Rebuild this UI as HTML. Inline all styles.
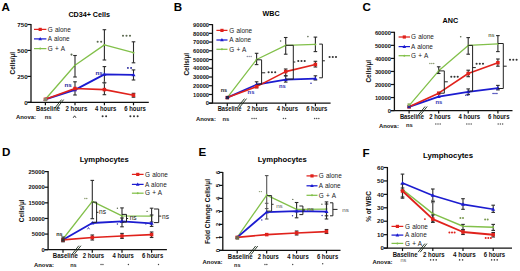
<!DOCTYPE html>
<html><head><meta charset="utf-8"><style>
html,body{margin:0;padding:0;background:#fff;}
body{width:520px;height:271px;overflow:hidden;}
svg{display:block;}
text{font-family:"Liberation Sans", sans-serif;}
</style></head><body>
<svg width="520" height="271" viewBox="0 0 520 271">
<rect width="520" height="271" fill="#fff"/>
<text x="1.60" y="10.50" font-size="11.6" font-weight="bold" text-anchor="start" fill="#000">A</text>
<text x="89.20" y="17.00" font-size="8.0" font-weight="bold" text-anchor="middle" fill="#000" textLength="41.60" lengthAdjust="spacingAndGlyphs">CD34+ Cells</text>
<text x="15.30" y="63.20" font-size="6.4" font-weight="bold" text-anchor="middle" fill="#111" transform="rotate(-90 15.30 63.20)">Cells/µl</text>
<line x1="31.00" y1="24.00" x2="31.00" y2="102.30" stroke="#111" stroke-width="1.3"/>
<line x1="27.40" y1="24.50" x2="31.00" y2="24.50" stroke="#111" stroke-width="1.2"/>
<text x="27.60" y="26.70" font-size="6.2" font-weight="bold" text-anchor="end" fill="#111">750</text>
<line x1="27.40" y1="50.40" x2="31.00" y2="50.40" stroke="#111" stroke-width="1.2"/>
<text x="27.60" y="52.60" font-size="6.2" font-weight="bold" text-anchor="end" fill="#111">500</text>
<line x1="27.40" y1="76.40" x2="31.00" y2="76.40" stroke="#111" stroke-width="1.2"/>
<text x="27.60" y="78.60" font-size="6.2" font-weight="bold" text-anchor="end" fill="#111">250</text>
<line x1="27.40" y1="102.30" x2="31.00" y2="102.30" stroke="#111" stroke-width="1.2"/>
<text x="27.60" y="104.50" font-size="6.2" font-weight="bold" text-anchor="end" fill="#111">0</text>
<line x1="27.40" y1="102.30" x2="148.80" y2="102.30" stroke="#111" stroke-width="1.3"/>
<line x1="45.40" y1="102.30" x2="45.40" y2="105.30" stroke="#111" stroke-width="1.2"/>
<line x1="75.00" y1="102.30" x2="75.00" y2="105.30" stroke="#111" stroke-width="1.2"/>
<line x1="104.40" y1="102.30" x2="104.40" y2="105.30" stroke="#111" stroke-width="1.2"/>
<line x1="133.50" y1="102.30" x2="133.50" y2="105.30" stroke="#111" stroke-width="1.2"/>
<text x="48.00" y="110.50" font-size="6.4" font-weight="bold" text-anchor="middle" fill="#111" textLength="23.80" lengthAdjust="spacingAndGlyphs">Baseline</text>
<text x="76.35" y="110.50" font-size="6.4" font-weight="bold" text-anchor="middle" fill="#111" textLength="21.90" lengthAdjust="spacingAndGlyphs">2 hours</text>
<text x="105.70" y="110.50" font-size="6.4" font-weight="bold" text-anchor="middle" fill="#111" textLength="21.20" lengthAdjust="spacingAndGlyphs">4 hours</text>
<text x="135.00" y="110.50" font-size="6.4" font-weight="bold" text-anchor="middle" fill="#111" textLength="21.60" lengthAdjust="spacingAndGlyphs">6 hours</text>
<line x1="54.75" y1="108.20" x2="61.55" y2="99.60" stroke="#1a2a1a" stroke-width="0.9"/>
<line x1="56.85" y1="108.20" x2="63.65" y2="99.60" stroke="#1a2a1a" stroke-width="0.9"/>
<text x="16.00" y="119.40" font-size="5.9" font-weight="bold" text-anchor="start" fill="#111">Anova:</text>
<text x="48.10" y="119.27" font-size="5.8" font-weight="bold" text-anchor="middle" fill="#222">ns</text>
<polyline points="73.20,117.80 74.60,115.80 76.00,117.80" fill="none" stroke="#222" stroke-width="0.9"/>
<circle cx="102.60" cy="116.20" r="1.0" fill="#333"/>
<circle cx="106.10" cy="116.20" r="1.0" fill="#333"/>
<circle cx="130.35" cy="116.20" r="1.0" fill="#333"/>
<circle cx="134.00" cy="116.20" r="1.0" fill="#333"/>
<circle cx="137.65" cy="116.20" r="1.0" fill="#333"/>
<line x1="34.00" y1="29.40" x2="46.40" y2="29.40" stroke="#e0221c" stroke-width="1.25"/>
<rect x="38.60" y="27.80" width="3.2" height="3.2" fill="#e0221c"/>
<text x="47.80" y="31.65" font-size="6.4" font-weight="normal" text-anchor="start" fill="#1a1a1a" word-spacing="0.5">G alone</text>
<line x1="34.00" y1="38.90" x2="46.40" y2="38.90" stroke="#1c1cd0" stroke-width="1.25"/>
<polygon points="40.20,36.98 38.36,40.18 42.04,40.18" fill="#1c1cd0"/>
<text x="47.80" y="41.15" font-size="6.4" font-weight="normal" text-anchor="start" fill="#1a1a1a" word-spacing="0.5">A alone</text>
<line x1="34.00" y1="48.60" x2="46.40" y2="48.60" stroke="#82c04a" stroke-width="1.25"/>
<circle cx="40.20" cy="48.60" r="1.0" fill="#82c04a"/>
<text x="47.80" y="50.85" font-size="6.4" font-weight="normal" text-anchor="start" fill="#1a1a1a" word-spacing="0.5">G + A</text>
<polyline points="45.40,99.30 75.00,65.20 104.40,44.90 133.50,52.70" fill="none" stroke="#82c04a" stroke-width="1.3" stroke-linejoin="round"/>
<line x1="75.00" y1="55.50" x2="75.00" y2="77.00" stroke="#2c2c2c" stroke-width="1.1"/>
<line x1="73.20" y1="55.50" x2="76.80" y2="55.50" stroke="#2c2c2c" stroke-width="1.1"/>
<line x1="73.20" y1="77.00" x2="76.80" y2="77.00" stroke="#2c2c2c" stroke-width="1.1"/>
<line x1="104.40" y1="29.70" x2="104.40" y2="60.00" stroke="#2c2c2c" stroke-width="1.1"/>
<line x1="102.60" y1="29.70" x2="106.20" y2="29.70" stroke="#2c2c2c" stroke-width="1.1"/>
<line x1="102.60" y1="60.00" x2="106.20" y2="60.00" stroke="#2c2c2c" stroke-width="1.1"/>
<line x1="133.50" y1="41.80" x2="133.50" y2="62.80" stroke="#2c2c2c" stroke-width="1.1"/>
<line x1="131.70" y1="41.80" x2="135.30" y2="41.80" stroke="#2c2c2c" stroke-width="1.1"/>
<line x1="131.70" y1="62.80" x2="135.30" y2="62.80" stroke="#2c2c2c" stroke-width="1.1"/>
<circle cx="45.40" cy="99.30" r="1.0" fill="#82c04a"/>
<circle cx="75.00" cy="65.20" r="1.0" fill="#82c04a"/>
<circle cx="104.40" cy="44.90" r="1.0" fill="#82c04a"/>
<circle cx="133.50" cy="52.70" r="1.0" fill="#82c04a"/>
<polyline points="45.40,99.30 75.00,89.80 104.40,74.40 133.50,74.90" fill="none" stroke="#1c1cd0" stroke-width="1.9" stroke-linejoin="round"/>
<line x1="75.00" y1="81.80" x2="75.00" y2="95.00" stroke="#2c2c2c" stroke-width="1.1"/>
<line x1="73.20" y1="81.80" x2="76.80" y2="81.80" stroke="#2c2c2c" stroke-width="1.1"/>
<line x1="73.20" y1="95.00" x2="76.80" y2="95.00" stroke="#2c2c2c" stroke-width="1.1"/>
<line x1="104.40" y1="66.60" x2="104.40" y2="82.70" stroke="#2c2c2c" stroke-width="1.1"/>
<line x1="102.60" y1="66.60" x2="106.20" y2="66.60" stroke="#2c2c2c" stroke-width="1.1"/>
<line x1="102.60" y1="82.70" x2="106.20" y2="82.70" stroke="#2c2c2c" stroke-width="1.1"/>
<line x1="133.50" y1="69.90" x2="133.50" y2="80.00" stroke="#2c2c2c" stroke-width="1.1"/>
<line x1="131.70" y1="69.90" x2="135.30" y2="69.90" stroke="#2c2c2c" stroke-width="1.1"/>
<line x1="131.70" y1="80.00" x2="135.30" y2="80.00" stroke="#2c2c2c" stroke-width="1.1"/>
<polygon points="45.40,97.20 43.39,100.70 47.41,100.70" fill="#1c1cd0"/>
<polygon points="75.00,87.70 72.99,91.20 77.01,91.20" fill="#1c1cd0"/>
<polygon points="104.40,72.30 102.39,75.80 106.41,75.80" fill="#1c1cd0"/>
<polygon points="133.50,72.80 131.49,76.30 135.51,76.30" fill="#1c1cd0"/>
<polyline points="45.40,99.30 75.00,88.50 104.40,89.60 133.50,95.20" fill="none" stroke="#e0221c" stroke-width="1.6" stroke-linejoin="round"/>
<line x1="104.40" y1="82.70" x2="104.40" y2="94.70" stroke="#2c2c2c" stroke-width="1.1"/>
<line x1="102.60" y1="82.70" x2="106.20" y2="82.70" stroke="#2c2c2c" stroke-width="1.1"/>
<line x1="102.60" y1="94.70" x2="106.20" y2="94.70" stroke="#2c2c2c" stroke-width="1.1"/>
<line x1="133.50" y1="93.30" x2="133.50" y2="97.20" stroke="#2c2c2c" stroke-width="1.1"/>
<line x1="131.70" y1="93.30" x2="135.30" y2="93.30" stroke="#2c2c2c" stroke-width="1.1"/>
<line x1="131.70" y1="97.20" x2="135.30" y2="97.20" stroke="#2c2c2c" stroke-width="1.1"/>
<rect x="43.65" y="97.55" width="3.50" height="3.50" fill="#e0221c"/>
<rect x="73.25" y="86.75" width="3.50" height="3.50" fill="#e0221c"/>
<rect x="102.65" y="87.85" width="3.50" height="3.50" fill="#e0221c"/>
<rect x="131.75" y="93.45" width="3.50" height="3.50" fill="#e0221c"/>
<rect x="43.90" y="98.00" width="3.20" height="3.20" fill="#8a8a6c"/>
<circle cx="104.4" cy="82.7" r="1.1" fill="none" stroke="#777" stroke-width="0.8"/>
<circle cx="71.50" cy="54.60" r="1.05" fill="#5d6a52"/>
<circle cx="97.65" cy="41.70" r="1.05" fill="#5d6a52"/>
<circle cx="101.15" cy="41.70" r="1.05" fill="#5d6a52"/>
<circle cx="123.00" cy="35.80" r="1.05" fill="#5d6a52"/>
<circle cx="126.50" cy="35.80" r="1.05" fill="#5d6a52"/>
<circle cx="130.00" cy="35.80" r="1.05" fill="#5d6a52"/>
<text x="68.00" y="87.37" font-size="6.2" font-weight="bold" text-anchor="middle" fill="#22229a">ns</text>
<text x="99.00" y="75.37" font-size="6.2" font-weight="bold" text-anchor="middle" fill="#22229a">ns</text>
<circle cx="127.90" cy="67.90" r="0.95" fill="#22229a"/>
<circle cx="131.10" cy="67.90" r="0.95" fill="#22229a"/>
<text x="173.80" y="10.60" font-size="11.6" font-weight="bold" text-anchor="start" fill="#000">B</text>
<text x="271.05" y="15.70" font-size="7.9" font-weight="bold" text-anchor="middle" fill="#000" textLength="17.10" lengthAdjust="spacingAndGlyphs">WBC</text>
<text x="189.00" y="64.30" font-size="6.4" font-weight="bold" text-anchor="middle" fill="#111" transform="rotate(-90 189.00 64.30)">Cells/µl</text>
<line x1="212.50" y1="24.10" x2="212.50" y2="103.20" stroke="#111" stroke-width="1.3"/>
<line x1="208.90" y1="103.20" x2="212.50" y2="103.20" stroke="#111" stroke-width="1.2"/>
<text x="209.10" y="105.40" font-size="5.8" font-weight="bold" text-anchor="end" fill="#111">0</text>
<line x1="208.90" y1="94.47" x2="212.50" y2="94.47" stroke="#111" stroke-width="1.2"/>
<text x="209.10" y="96.67" font-size="5.8" font-weight="bold" text-anchor="end" fill="#111">10000</text>
<line x1="208.90" y1="85.73" x2="212.50" y2="85.73" stroke="#111" stroke-width="1.2"/>
<text x="209.10" y="87.93" font-size="5.8" font-weight="bold" text-anchor="end" fill="#111">20000</text>
<line x1="208.90" y1="77.00" x2="212.50" y2="77.00" stroke="#111" stroke-width="1.2"/>
<text x="209.10" y="79.20" font-size="5.8" font-weight="bold" text-anchor="end" fill="#111">30000</text>
<line x1="208.90" y1="68.27" x2="212.50" y2="68.27" stroke="#111" stroke-width="1.2"/>
<text x="209.10" y="70.47" font-size="5.8" font-weight="bold" text-anchor="end" fill="#111">40000</text>
<line x1="208.90" y1="59.53" x2="212.50" y2="59.53" stroke="#111" stroke-width="1.2"/>
<text x="209.10" y="61.73" font-size="5.8" font-weight="bold" text-anchor="end" fill="#111">50000</text>
<line x1="208.90" y1="50.80" x2="212.50" y2="50.80" stroke="#111" stroke-width="1.2"/>
<text x="209.10" y="53.00" font-size="5.8" font-weight="bold" text-anchor="end" fill="#111">60000</text>
<line x1="208.90" y1="42.07" x2="212.50" y2="42.07" stroke="#111" stroke-width="1.2"/>
<text x="209.10" y="44.27" font-size="5.8" font-weight="bold" text-anchor="end" fill="#111">70000</text>
<line x1="208.90" y1="33.33" x2="212.50" y2="33.33" stroke="#111" stroke-width="1.2"/>
<text x="209.10" y="35.53" font-size="5.8" font-weight="bold" text-anchor="end" fill="#111">80000</text>
<line x1="208.90" y1="24.60" x2="212.50" y2="24.60" stroke="#111" stroke-width="1.2"/>
<text x="209.10" y="26.80" font-size="5.8" font-weight="bold" text-anchor="end" fill="#111">90000</text>
<line x1="208.90" y1="103.20" x2="330.60" y2="103.20" stroke="#111" stroke-width="1.3"/>
<line x1="227.30" y1="103.20" x2="227.30" y2="106.20" stroke="#111" stroke-width="1.2"/>
<line x1="256.60" y1="103.20" x2="256.60" y2="106.20" stroke="#111" stroke-width="1.2"/>
<line x1="285.70" y1="103.20" x2="285.70" y2="106.20" stroke="#111" stroke-width="1.2"/>
<line x1="315.40" y1="103.20" x2="315.40" y2="106.20" stroke="#111" stroke-width="1.2"/>
<text x="229.60" y="111.30" font-size="6.4" font-weight="bold" text-anchor="middle" fill="#111" textLength="23.80" lengthAdjust="spacingAndGlyphs">Baseline</text>
<text x="257.40" y="111.30" font-size="6.4" font-weight="bold" text-anchor="middle" fill="#111" textLength="20.80" lengthAdjust="spacingAndGlyphs">2 hours</text>
<text x="287.35" y="111.30" font-size="6.4" font-weight="bold" text-anchor="middle" fill="#111" textLength="21.10" lengthAdjust="spacingAndGlyphs">4 hours</text>
<text x="316.80" y="111.30" font-size="6.4" font-weight="bold" text-anchor="middle" fill="#111" textLength="21.20" lengthAdjust="spacingAndGlyphs">6 hours</text>
<line x1="237.65" y1="107.20" x2="244.45" y2="98.60" stroke="#1a2a1a" stroke-width="0.9"/>
<line x1="239.75" y1="107.20" x2="246.55" y2="98.60" stroke="#1a2a1a" stroke-width="0.9"/>
<text x="195.90" y="120.80" font-size="5.9" font-weight="bold" text-anchor="start" fill="#111">Anova:</text>
<text x="225.90" y="120.57" font-size="5.8" font-weight="bold" text-anchor="middle" fill="#222">ns</text>
<circle cx="252.00" cy="118.40" r="0.75" fill="#555"/>
<circle cx="254.10" cy="118.40" r="0.75" fill="#555"/>
<circle cx="256.20" cy="118.40" r="0.75" fill="#555"/>
<circle cx="283.45" cy="118.40" r="0.75" fill="#555"/>
<circle cx="285.55" cy="118.40" r="0.75" fill="#555"/>
<circle cx="314.60" cy="118.40" r="0.75" fill="#555"/>
<circle cx="316.70" cy="118.40" r="0.75" fill="#555"/>
<circle cx="318.80" cy="118.40" r="0.75" fill="#555"/>
<line x1="216.40" y1="30.40" x2="227.50" y2="30.40" stroke="#e0221c" stroke-width="1.25"/>
<rect x="220.35" y="28.80" width="3.2" height="3.2" fill="#e0221c"/>
<text x="229.20" y="32.65" font-size="6.4" font-weight="normal" text-anchor="start" fill="#1a1a1a" word-spacing="0.5">G alone</text>
<line x1="216.40" y1="40.00" x2="227.50" y2="40.00" stroke="#1c1cd0" stroke-width="1.25"/>
<polygon points="221.95,38.08 220.11,41.28 223.79,41.28" fill="#1c1cd0"/>
<text x="229.20" y="42.25" font-size="6.4" font-weight="normal" text-anchor="start" fill="#1a1a1a" word-spacing="0.5">A alone</text>
<line x1="216.40" y1="49.30" x2="227.50" y2="49.30" stroke="#82c04a" stroke-width="1.25"/>
<circle cx="221.95" cy="49.30" r="1.0" fill="#82c04a"/>
<text x="229.20" y="51.55" font-size="6.4" font-weight="normal" text-anchor="start" fill="#1a1a1a" word-spacing="0.5">G + A</text>
<polyline points="227.30,97.60 256.60,59.50 285.70,45.30 315.40,44.40" fill="none" stroke="#82c04a" stroke-width="1.3" stroke-linejoin="round"/>
<line x1="256.60" y1="53.30" x2="256.60" y2="64.60" stroke="#2c2c2c" stroke-width="1.1"/>
<line x1="254.80" y1="53.30" x2="258.40" y2="53.30" stroke="#2c2c2c" stroke-width="1.1"/>
<line x1="254.80" y1="64.60" x2="258.40" y2="64.60" stroke="#2c2c2c" stroke-width="1.1"/>
<line x1="285.70" y1="37.50" x2="285.70" y2="54.20" stroke="#2c2c2c" stroke-width="1.1"/>
<line x1="283.90" y1="37.50" x2="287.50" y2="37.50" stroke="#2c2c2c" stroke-width="1.1"/>
<line x1="283.90" y1="54.20" x2="287.50" y2="54.20" stroke="#2c2c2c" stroke-width="1.1"/>
<line x1="315.40" y1="37.10" x2="315.40" y2="51.60" stroke="#2c2c2c" stroke-width="1.1"/>
<line x1="313.60" y1="37.10" x2="317.20" y2="37.10" stroke="#2c2c2c" stroke-width="1.1"/>
<line x1="313.60" y1="51.60" x2="317.20" y2="51.60" stroke="#2c2c2c" stroke-width="1.1"/>
<circle cx="227.30" cy="97.60" r="1.0" fill="#82c04a"/>
<circle cx="256.60" cy="59.50" r="1.0" fill="#82c04a"/>
<circle cx="285.70" cy="45.30" r="1.0" fill="#82c04a"/>
<circle cx="315.40" cy="44.40" r="1.0" fill="#82c04a"/>
<polyline points="227.30,97.60 256.60,84.60 285.70,79.60 315.40,78.60" fill="none" stroke="#1c1cd0" stroke-width="1.8" stroke-linejoin="round"/>
<line x1="256.60" y1="81.80" x2="256.60" y2="87.80" stroke="#2c2c2c" stroke-width="1.1"/>
<line x1="254.80" y1="81.80" x2="258.40" y2="81.80" stroke="#2c2c2c" stroke-width="1.1"/>
<line x1="254.80" y1="87.80" x2="258.40" y2="87.80" stroke="#2c2c2c" stroke-width="1.1"/>
<line x1="285.70" y1="75.80" x2="285.70" y2="82.10" stroke="#2c2c2c" stroke-width="1.1"/>
<line x1="283.90" y1="75.80" x2="287.50" y2="75.80" stroke="#2c2c2c" stroke-width="1.1"/>
<line x1="283.90" y1="82.10" x2="287.50" y2="82.10" stroke="#2c2c2c" stroke-width="1.1"/>
<line x1="315.40" y1="75.80" x2="315.40" y2="80.00" stroke="#2c2c2c" stroke-width="1.1"/>
<line x1="313.60" y1="75.80" x2="317.20" y2="75.80" stroke="#2c2c2c" stroke-width="1.1"/>
<line x1="313.60" y1="80.00" x2="317.20" y2="80.00" stroke="#2c2c2c" stroke-width="1.1"/>
<polygon points="227.30,95.50 225.29,99.00 229.31,99.00" fill="#1c1cd0"/>
<polygon points="256.60,82.50 254.59,86.00 258.61,86.00" fill="#1c1cd0"/>
<polygon points="285.70,77.50 283.69,81.00 287.71,81.00" fill="#1c1cd0"/>
<polygon points="315.40,76.50 313.39,80.00 317.41,80.00" fill="#1c1cd0"/>
<polyline points="227.30,97.60 256.60,86.60 285.70,71.60 315.40,64.50" fill="none" stroke="#e0221c" stroke-width="1.6" stroke-linejoin="round"/>
<line x1="285.70" y1="69.00" x2="285.70" y2="75.80" stroke="#2c2c2c" stroke-width="1.1"/>
<line x1="283.90" y1="69.00" x2="287.50" y2="69.00" stroke="#2c2c2c" stroke-width="1.1"/>
<line x1="283.90" y1="75.80" x2="287.50" y2="75.80" stroke="#2c2c2c" stroke-width="1.1"/>
<line x1="315.40" y1="61.30" x2="315.40" y2="67.00" stroke="#2c2c2c" stroke-width="1.1"/>
<line x1="313.60" y1="61.30" x2="317.20" y2="61.30" stroke="#2c2c2c" stroke-width="1.1"/>
<line x1="313.60" y1="67.00" x2="317.20" y2="67.00" stroke="#2c2c2c" stroke-width="1.1"/>
<rect x="225.55" y="95.85" width="3.50" height="3.50" fill="#e0221c"/>
<rect x="254.85" y="84.85" width="3.50" height="3.50" fill="#e0221c"/>
<rect x="283.95" y="69.85" width="3.50" height="3.50" fill="#e0221c"/>
<rect x="313.65" y="62.75" width="3.50" height="3.50" fill="#e0221c"/>
<rect x="225.80" y="96.00" width="3.20" height="3.20" fill="#24244c"/>
<line x1="256.60" y1="59.80" x2="261.60" y2="59.80" stroke="#222" stroke-width="1.0"/>
<line x1="261.60" y1="59.80" x2="261.60" y2="84.20" stroke="#222" stroke-width="1.0"/>
<line x1="256.60" y1="84.20" x2="261.60" y2="84.20" stroke="#222" stroke-width="1.0"/>
<line x1="261.60" y1="72.80" x2="265.20" y2="72.80" stroke="#222" stroke-width="1.0"/>
<circle cx="268.60" cy="72.20" r="1.05" fill="#333"/>
<circle cx="271.90" cy="72.20" r="1.05" fill="#333"/>
<circle cx="275.20" cy="72.20" r="1.05" fill="#333"/>
<line x1="285.70" y1="45.30" x2="293.30" y2="45.30" stroke="#222" stroke-width="1.0"/>
<line x1="293.30" y1="45.30" x2="293.30" y2="79.10" stroke="#222" stroke-width="1.0"/>
<line x1="285.70" y1="79.10" x2="293.30" y2="79.10" stroke="#222" stroke-width="1.0"/>
<line x1="293.30" y1="62.00" x2="295.30" y2="62.00" stroke="#222" stroke-width="1.0"/>
<circle cx="298.30" cy="61.00" r="1.05" fill="#333"/>
<circle cx="301.50" cy="61.00" r="1.05" fill="#333"/>
<circle cx="304.70" cy="61.00" r="1.05" fill="#333"/>
<line x1="319.20" y1="44.10" x2="322.40" y2="44.10" stroke="#222" stroke-width="1.0"/>
<line x1="322.40" y1="44.10" x2="322.40" y2="77.80" stroke="#222" stroke-width="1.0"/>
<line x1="319.20" y1="77.80" x2="322.40" y2="77.80" stroke="#222" stroke-width="1.0"/>
<line x1="322.40" y1="60.80" x2="324.90" y2="60.80" stroke="#222" stroke-width="1.0"/>
<circle cx="329.60" cy="57.00" r="1.05" fill="#333"/>
<circle cx="332.80" cy="57.00" r="1.05" fill="#333"/>
<circle cx="336.00" cy="57.00" r="1.05" fill="#333"/>
<text x="223.90" y="91.98" font-size="5.5" font-weight="bold" text-anchor="middle" fill="#222">ns</text>
<circle cx="247.30" cy="56.50" r="0.75" fill="#8a8aa0"/>
<circle cx="249.20" cy="56.50" r="0.75" fill="#8a8aa0"/>
<circle cx="251.10" cy="56.50" r="0.75" fill="#8a8aa0"/>
<circle cx="280.60" cy="41.00" r="0.8" fill="#5d6a52"/>
<circle cx="307.90" cy="36.60" r="0.8" fill="#5d6a52"/>
<text x="251.00" y="93.57" font-size="5.8" font-weight="bold" text-anchor="middle" fill="#3030b0">ns</text>
<text x="282.30" y="88.17" font-size="5.8" font-weight="bold" text-anchor="middle" fill="#3030b0">ns</text>
<circle cx="311.00" cy="83.30" r="0.8" fill="#3030b0"/>
<text x="362.60" y="10.60" font-size="11.6" font-weight="bold" text-anchor="start" fill="#000">C</text>
<text x="450.30" y="22.50" font-size="7.8" font-weight="bold" text-anchor="middle" fill="#000" textLength="15.60" lengthAdjust="spacingAndGlyphs">ANC</text>
<text x="370.70" y="71.30" font-size="6.4" font-weight="bold" text-anchor="middle" fill="#111" transform="rotate(-90 370.70 71.30)">Cells/µl</text>
<line x1="394.40" y1="31.80" x2="394.40" y2="110.60" stroke="#111" stroke-width="1.3"/>
<line x1="390.80" y1="110.60" x2="394.40" y2="110.60" stroke="#111" stroke-width="1.2"/>
<text x="391.00" y="112.80" font-size="5.8" font-weight="bold" text-anchor="end" fill="#111">0</text>
<line x1="390.80" y1="97.55" x2="394.40" y2="97.55" stroke="#111" stroke-width="1.2"/>
<text x="391.00" y="99.75" font-size="5.8" font-weight="bold" text-anchor="end" fill="#111">10000</text>
<line x1="390.80" y1="84.50" x2="394.40" y2="84.50" stroke="#111" stroke-width="1.2"/>
<text x="391.00" y="86.70" font-size="5.8" font-weight="bold" text-anchor="end" fill="#111">20000</text>
<line x1="390.80" y1="71.45" x2="394.40" y2="71.45" stroke="#111" stroke-width="1.2"/>
<text x="391.00" y="73.65" font-size="5.8" font-weight="bold" text-anchor="end" fill="#111">30000</text>
<line x1="390.80" y1="58.40" x2="394.40" y2="58.40" stroke="#111" stroke-width="1.2"/>
<text x="391.00" y="60.60" font-size="5.8" font-weight="bold" text-anchor="end" fill="#111">40000</text>
<line x1="390.80" y1="45.35" x2="394.40" y2="45.35" stroke="#111" stroke-width="1.2"/>
<text x="391.00" y="47.55" font-size="5.8" font-weight="bold" text-anchor="end" fill="#111">50000</text>
<line x1="390.80" y1="32.30" x2="394.40" y2="32.30" stroke="#111" stroke-width="1.2"/>
<text x="391.00" y="34.50" font-size="5.8" font-weight="bold" text-anchor="end" fill="#111">60000</text>
<line x1="390.80" y1="110.60" x2="512.50" y2="110.60" stroke="#111" stroke-width="1.3"/>
<line x1="409.10" y1="110.60" x2="409.10" y2="113.60" stroke="#111" stroke-width="1.2"/>
<line x1="438.70" y1="110.60" x2="438.70" y2="113.60" stroke="#111" stroke-width="1.2"/>
<line x1="468.20" y1="110.60" x2="468.20" y2="113.60" stroke="#111" stroke-width="1.2"/>
<line x1="497.90" y1="110.60" x2="497.90" y2="113.60" stroke="#111" stroke-width="1.2"/>
<text x="411.90" y="118.50" font-size="6.4" font-weight="bold" text-anchor="middle" fill="#111" textLength="24.00" lengthAdjust="spacingAndGlyphs">Baseline</text>
<text x="439.95" y="118.50" font-size="6.4" font-weight="bold" text-anchor="middle" fill="#111" textLength="21.50" lengthAdjust="spacingAndGlyphs">2 hours</text>
<text x="469.35" y="118.50" font-size="6.4" font-weight="bold" text-anchor="middle" fill="#111" textLength="21.50" lengthAdjust="spacingAndGlyphs">4 hours</text>
<text x="498.75" y="118.50" font-size="6.4" font-weight="bold" text-anchor="middle" fill="#111" textLength="21.50" lengthAdjust="spacingAndGlyphs">6 hours</text>
<line x1="418.25" y1="115.10" x2="425.05" y2="106.50" stroke="#1a2a1a" stroke-width="0.9"/>
<line x1="420.35" y1="115.10" x2="427.15" y2="106.50" stroke="#1a2a1a" stroke-width="0.9"/>
<text x="378.90" y="127.60" font-size="5.9" font-weight="bold" text-anchor="start" fill="#111">Anova:</text>
<text x="409.40" y="126.57" font-size="5.8" font-weight="bold" text-anchor="middle" fill="#222">ns</text>
<circle cx="435.80" cy="123.90" r="0.75" fill="#555"/>
<circle cx="438.00" cy="123.90" r="0.75" fill="#555"/>
<circle cx="440.20" cy="123.90" r="0.75" fill="#555"/>
<circle cx="466.80" cy="123.90" r="0.75" fill="#555"/>
<circle cx="469.00" cy="123.90" r="0.75" fill="#555"/>
<circle cx="471.20" cy="123.90" r="0.75" fill="#555"/>
<circle cx="498.20" cy="123.90" r="0.75" fill="#555"/>
<circle cx="500.40" cy="123.90" r="0.75" fill="#555"/>
<circle cx="502.60" cy="123.90" r="0.75" fill="#555"/>
<line x1="398.60" y1="37.00" x2="410.00" y2="37.00" stroke="#e0221c" stroke-width="1.25"/>
<rect x="402.70" y="35.40" width="3.2" height="3.2" fill="#e0221c"/>
<text x="411.00" y="39.25" font-size="6.4" font-weight="normal" text-anchor="start" fill="#1a1a1a" word-spacing="0.5">G alone</text>
<line x1="398.60" y1="46.60" x2="410.00" y2="46.60" stroke="#1c1cd0" stroke-width="1.25"/>
<polygon points="404.30,44.68 402.46,47.88 406.14,47.88" fill="#1c1cd0"/>
<text x="411.00" y="48.85" font-size="6.4" font-weight="normal" text-anchor="start" fill="#1a1a1a" word-spacing="0.5">A alone</text>
<line x1="398.60" y1="55.70" x2="410.00" y2="55.70" stroke="#82c04a" stroke-width="1.25"/>
<circle cx="404.30" cy="55.70" r="1.0" fill="#82c04a"/>
<text x="411.00" y="57.95" font-size="6.4" font-weight="normal" text-anchor="start" fill="#1a1a1a" word-spacing="0.5">G + A</text>
<polyline points="409.10,105.60 438.70,70.80 468.20,45.40 497.90,43.90" fill="none" stroke="#82c04a" stroke-width="1.3" stroke-linejoin="round"/>
<line x1="438.70" y1="66.80" x2="438.70" y2="73.50" stroke="#2c2c2c" stroke-width="1.1"/>
<line x1="436.90" y1="66.80" x2="440.50" y2="66.80" stroke="#2c2c2c" stroke-width="1.1"/>
<line x1="436.90" y1="73.50" x2="440.50" y2="73.50" stroke="#2c2c2c" stroke-width="1.1"/>
<line x1="468.20" y1="37.60" x2="468.20" y2="54.20" stroke="#2c2c2c" stroke-width="1.1"/>
<line x1="466.40" y1="37.60" x2="470.00" y2="37.60" stroke="#2c2c2c" stroke-width="1.1"/>
<line x1="466.40" y1="54.20" x2="470.00" y2="54.20" stroke="#2c2c2c" stroke-width="1.1"/>
<line x1="497.90" y1="35.60" x2="497.90" y2="51.60" stroke="#2c2c2c" stroke-width="1.1"/>
<line x1="496.10" y1="35.60" x2="499.70" y2="35.60" stroke="#2c2c2c" stroke-width="1.1"/>
<line x1="496.10" y1="51.60" x2="499.70" y2="51.60" stroke="#2c2c2c" stroke-width="1.1"/>
<circle cx="409.10" cy="105.60" r="1.0" fill="#82c04a"/>
<circle cx="438.70" cy="70.80" r="1.0" fill="#82c04a"/>
<circle cx="468.20" cy="45.40" r="1.0" fill="#82c04a"/>
<circle cx="497.90" cy="43.90" r="1.0" fill="#82c04a"/>
<polyline points="409.10,106.80 438.70,96.70 468.20,91.80 497.90,88.10" fill="none" stroke="#1c1cd0" stroke-width="1.8" stroke-linejoin="round"/>
<line x1="468.20" y1="88.90" x2="468.20" y2="94.60" stroke="#2c2c2c" stroke-width="1.1"/>
<line x1="466.40" y1="88.90" x2="470.00" y2="88.90" stroke="#2c2c2c" stroke-width="1.1"/>
<line x1="466.40" y1="94.60" x2="470.00" y2="94.60" stroke="#2c2c2c" stroke-width="1.1"/>
<line x1="497.90" y1="85.40" x2="497.90" y2="89.90" stroke="#2c2c2c" stroke-width="1.1"/>
<line x1="496.10" y1="85.40" x2="499.70" y2="85.40" stroke="#2c2c2c" stroke-width="1.1"/>
<line x1="496.10" y1="89.90" x2="499.70" y2="89.90" stroke="#2c2c2c" stroke-width="1.1"/>
<polygon points="409.10,104.70 407.09,108.20 411.11,108.20" fill="#1c1cd0"/>
<polygon points="438.70,94.60 436.69,98.10 440.71,98.10" fill="#1c1cd0"/>
<polygon points="468.20,89.70 466.19,93.20 470.21,93.20" fill="#1c1cd0"/>
<polygon points="497.90,86.00 495.89,89.50 499.91,89.50" fill="#1c1cd0"/>
<polyline points="409.10,106.80 438.70,93.20 468.20,73.50 497.90,62.70" fill="none" stroke="#e0221c" stroke-width="1.6" stroke-linejoin="round"/>
<line x1="468.20" y1="70.20" x2="468.20" y2="76.70" stroke="#2c2c2c" stroke-width="1.1"/>
<line x1="466.40" y1="70.20" x2="470.00" y2="70.20" stroke="#2c2c2c" stroke-width="1.1"/>
<line x1="466.40" y1="76.70" x2="470.00" y2="76.70" stroke="#2c2c2c" stroke-width="1.1"/>
<line x1="497.90" y1="59.00" x2="497.90" y2="66.20" stroke="#2c2c2c" stroke-width="1.1"/>
<line x1="496.10" y1="59.00" x2="499.70" y2="59.00" stroke="#2c2c2c" stroke-width="1.1"/>
<line x1="496.10" y1="66.20" x2="499.70" y2="66.20" stroke="#2c2c2c" stroke-width="1.1"/>
<rect x="407.35" y="105.05" width="3.50" height="3.50" fill="#e0221c"/>
<rect x="436.95" y="91.45" width="3.50" height="3.50" fill="#e0221c"/>
<rect x="466.45" y="71.75" width="3.50" height="3.50" fill="#e0221c"/>
<rect x="496.15" y="60.95" width="3.50" height="3.50" fill="#e0221c"/>
<rect x="407.60" y="105.10" width="3.00" height="3.00" fill="#2a2a90"/>
<rect x="407.50" y="103.30" width="2.60" height="2.60" fill="#90b060"/>
<line x1="438.70" y1="70.90" x2="444.30" y2="70.90" stroke="#222" stroke-width="1.0"/>
<line x1="444.30" y1="70.90" x2="444.30" y2="93.20" stroke="#222" stroke-width="1.0"/>
<line x1="438.70" y1="93.20" x2="444.30" y2="93.20" stroke="#222" stroke-width="1.0"/>
<line x1="444.30" y1="81.80" x2="447.80" y2="81.80" stroke="#222" stroke-width="1.0"/>
<circle cx="451.30" cy="76.70" r="1.05" fill="#333"/>
<circle cx="454.50" cy="76.70" r="1.05" fill="#333"/>
<circle cx="457.70" cy="76.70" r="1.05" fill="#333"/>
<line x1="468.20" y1="45.40" x2="472.60" y2="45.40" stroke="#222" stroke-width="1.0"/>
<line x1="472.60" y1="45.40" x2="472.60" y2="91.10" stroke="#222" stroke-width="1.0"/>
<line x1="468.20" y1="91.10" x2="472.60" y2="91.10" stroke="#222" stroke-width="1.0"/>
<line x1="472.60" y1="67.60" x2="475.80" y2="67.60" stroke="#222" stroke-width="1.0"/>
<circle cx="476.60" cy="63.70" r="1.05" fill="#333"/>
<circle cx="479.80" cy="63.70" r="1.05" fill="#333"/>
<circle cx="483.00" cy="63.70" r="1.05" fill="#333"/>
<line x1="497.90" y1="43.50" x2="503.30" y2="43.50" stroke="#222" stroke-width="1.0"/>
<line x1="503.30" y1="43.50" x2="503.30" y2="88.50" stroke="#222" stroke-width="1.0"/>
<line x1="497.90" y1="88.50" x2="503.30" y2="88.50" stroke="#222" stroke-width="1.0"/>
<line x1="503.30" y1="66.20" x2="506.70" y2="66.20" stroke="#222" stroke-width="1.0"/>
<circle cx="510.00" cy="59.80" r="1.05" fill="#333"/>
<circle cx="513.30" cy="59.80" r="1.05" fill="#333"/>
<circle cx="516.60" cy="59.80" r="1.05" fill="#333"/>
<circle cx="429.90" cy="63.60" r="0.75" fill="#8a9a70"/>
<circle cx="431.80" cy="63.60" r="0.75" fill="#8a9a70"/>
<circle cx="433.70" cy="63.60" r="0.75" fill="#8a9a70"/>
<circle cx="460.70" cy="36.80" r="0.8" fill="#5d6a52"/>
<text x="491.40" y="37.09" font-size="5.5" font-weight="bold" text-anchor="middle" fill="#6a7050">ns</text>
<text x="438.80" y="103.77" font-size="5.8" font-weight="bold" text-anchor="middle" fill="#3030b0">ns</text>
<circle cx="465.80" cy="95.20" r="0.8" fill="#3030b0"/>
<circle cx="467.80" cy="95.20" r="0.8" fill="#3030b0"/>
<circle cx="493.10" cy="93.50" r="0.8" fill="#3030b0"/>
<circle cx="495.00" cy="93.50" r="0.8" fill="#3030b0"/>
<circle cx="496.90" cy="93.50" r="0.8" fill="#3030b0"/>
<text x="2.10" y="156.20" font-size="11.6" font-weight="bold" text-anchor="start" fill="#000">D</text>
<text x="104.25" y="162.20" font-size="7.7" font-weight="bold" text-anchor="middle" fill="#000" textLength="49.10" lengthAdjust="spacingAndGlyphs">Lymphocytes</text>
<text x="23.60" y="210.90" font-size="6.4" font-weight="bold" text-anchor="middle" fill="#111" transform="rotate(-90 23.60 210.90)">Cells/µl</text>
<line x1="48.10" y1="171.10" x2="48.10" y2="249.70" stroke="#111" stroke-width="1.3"/>
<line x1="44.50" y1="249.70" x2="48.10" y2="249.70" stroke="#111" stroke-width="1.2"/>
<text x="44.70" y="251.90" font-size="5.8" font-weight="bold" text-anchor="end" fill="#111">0</text>
<line x1="44.50" y1="234.08" x2="48.10" y2="234.08" stroke="#111" stroke-width="1.2"/>
<text x="44.70" y="236.28" font-size="5.8" font-weight="bold" text-anchor="end" fill="#111">5000</text>
<line x1="44.50" y1="218.46" x2="48.10" y2="218.46" stroke="#111" stroke-width="1.2"/>
<text x="44.70" y="220.66" font-size="5.8" font-weight="bold" text-anchor="end" fill="#111">10000</text>
<line x1="44.50" y1="202.84" x2="48.10" y2="202.84" stroke="#111" stroke-width="1.2"/>
<text x="44.70" y="205.04" font-size="5.8" font-weight="bold" text-anchor="end" fill="#111">15000</text>
<line x1="44.50" y1="187.22" x2="48.10" y2="187.22" stroke="#111" stroke-width="1.2"/>
<text x="44.70" y="189.42" font-size="5.8" font-weight="bold" text-anchor="end" fill="#111">20000</text>
<line x1="44.50" y1="171.60" x2="48.10" y2="171.60" stroke="#111" stroke-width="1.2"/>
<text x="44.70" y="173.80" font-size="5.8" font-weight="bold" text-anchor="end" fill="#111">25000</text>
<line x1="44.60" y1="249.70" x2="166.90" y2="249.70" stroke="#111" stroke-width="1.3"/>
<line x1="63.00" y1="249.70" x2="63.00" y2="252.70" stroke="#111" stroke-width="1.2"/>
<line x1="92.30" y1="249.70" x2="92.30" y2="252.70" stroke="#111" stroke-width="1.2"/>
<line x1="122.00" y1="249.70" x2="122.00" y2="252.70" stroke="#111" stroke-width="1.2"/>
<line x1="151.60" y1="249.70" x2="151.60" y2="252.70" stroke="#111" stroke-width="1.2"/>
<text x="65.30" y="258.00" font-size="6.4" font-weight="bold" text-anchor="middle" fill="#111" textLength="25.00" lengthAdjust="spacingAndGlyphs">Baseline</text>
<text x="93.45" y="258.00" font-size="6.4" font-weight="bold" text-anchor="middle" fill="#111" textLength="21.30" lengthAdjust="spacingAndGlyphs">2 hours</text>
<text x="123.10" y="258.00" font-size="6.4" font-weight="bold" text-anchor="middle" fill="#111" textLength="21.20" lengthAdjust="spacingAndGlyphs">4 hours</text>
<text x="152.55" y="258.00" font-size="6.4" font-weight="bold" text-anchor="middle" fill="#111" textLength="21.30" lengthAdjust="spacingAndGlyphs">6 hours</text>
<line x1="72.05" y1="254.30" x2="78.85" y2="245.70" stroke="#1a2a1a" stroke-width="0.9"/>
<line x1="74.15" y1="254.30" x2="80.95" y2="245.70" stroke="#1a2a1a" stroke-width="0.9"/>
<text x="34.00" y="266.60" font-size="5.9" font-weight="bold" text-anchor="start" fill="#111">Anova:</text>
<text x="73.40" y="267.09" font-size="5.5" font-weight="bold" text-anchor="middle" fill="#222">ns</text>
<circle cx="101.05" cy="264.50" r="0.7" fill="#444"/>
<circle cx="102.95" cy="264.50" r="0.7" fill="#444"/>
<circle cx="128.40" cy="264.50" r="0.7" fill="#444"/>
<circle cx="158.50" cy="264.50" r="0.7" fill="#444"/>
<line x1="131.90" y1="174.40" x2="143.60" y2="174.40" stroke="#e0221c" stroke-width="1.25"/>
<rect x="136.15" y="172.80" width="3.2" height="3.2" fill="#e0221c"/>
<text x="144.90" y="176.65" font-size="6.4" font-weight="normal" text-anchor="start" fill="#1a1a1a" word-spacing="0.5">G alone</text>
<line x1="131.90" y1="184.40" x2="143.60" y2="184.40" stroke="#1c1cd0" stroke-width="1.25"/>
<polygon points="137.75,182.48 135.91,185.68 139.59,185.68" fill="#1c1cd0"/>
<text x="144.90" y="186.65" font-size="6.4" font-weight="normal" text-anchor="start" fill="#1a1a1a" word-spacing="0.5">A alone</text>
<line x1="131.90" y1="193.20" x2="143.60" y2="193.20" stroke="#82c04a" stroke-width="1.25"/>
<circle cx="137.75" cy="193.20" r="1.0" fill="#82c04a"/>
<text x="144.90" y="195.45" font-size="6.4" font-weight="normal" text-anchor="start" fill="#1a1a1a" word-spacing="0.5">G + A</text>
<polyline points="63.00,239.00 92.30,201.40 122.00,215.90 151.60,216.10" fill="none" stroke="#82c04a" stroke-width="1.3" stroke-linejoin="round"/>
<line x1="92.30" y1="180.40" x2="92.30" y2="218.70" stroke="#2c2c2c" stroke-width="1.1"/>
<line x1="90.50" y1="180.40" x2="94.10" y2="180.40" stroke="#2c2c2c" stroke-width="1.1"/>
<line x1="90.50" y1="218.70" x2="94.10" y2="218.70" stroke="#2c2c2c" stroke-width="1.1"/>
<line x1="122.00" y1="207.90" x2="122.00" y2="222.10" stroke="#2c2c2c" stroke-width="1.1"/>
<line x1="120.20" y1="207.90" x2="123.80" y2="207.90" stroke="#2c2c2c" stroke-width="1.1"/>
<line x1="120.20" y1="222.10" x2="123.80" y2="222.10" stroke="#2c2c2c" stroke-width="1.1"/>
<line x1="151.60" y1="208.20" x2="151.60" y2="222.00" stroke="#2c2c2c" stroke-width="1.1"/>
<line x1="149.80" y1="208.20" x2="153.40" y2="208.20" stroke="#2c2c2c" stroke-width="1.1"/>
<line x1="149.80" y1="222.00" x2="153.40" y2="222.00" stroke="#2c2c2c" stroke-width="1.1"/>
<circle cx="63.00" cy="239.00" r="1.0" fill="#82c04a"/>
<circle cx="92.30" cy="201.40" r="1.0" fill="#82c04a"/>
<circle cx="122.00" cy="215.90" r="1.0" fill="#82c04a"/>
<circle cx="151.60" cy="216.10" r="1.0" fill="#82c04a"/>
<polyline points="63.00,239.80 92.30,223.00 122.00,221.40 151.60,223.30" fill="none" stroke="#1c1cd0" stroke-width="1.8" stroke-linejoin="round"/>
<line x1="122.00" y1="218.00" x2="122.00" y2="226.80" stroke="#2c2c2c" stroke-width="1.1"/>
<line x1="120.20" y1="218.00" x2="123.80" y2="218.00" stroke="#2c2c2c" stroke-width="1.1"/>
<line x1="120.20" y1="226.80" x2="123.80" y2="226.80" stroke="#2c2c2c" stroke-width="1.1"/>
<line x1="151.60" y1="215.00" x2="151.60" y2="226.40" stroke="#2c2c2c" stroke-width="1.1"/>
<line x1="149.80" y1="215.00" x2="153.40" y2="215.00" stroke="#2c2c2c" stroke-width="1.1"/>
<line x1="149.80" y1="226.40" x2="153.40" y2="226.40" stroke="#2c2c2c" stroke-width="1.1"/>
<polygon points="63.00,237.70 60.99,241.20 65.01,241.20" fill="#1c1cd0"/>
<polygon points="92.30,220.90 90.29,224.40 94.31,224.40" fill="#1c1cd0"/>
<polygon points="122.00,219.30 119.99,222.80 124.01,222.80" fill="#1c1cd0"/>
<polygon points="151.60,221.20 149.59,224.70 153.61,224.70" fill="#1c1cd0"/>
<polyline points="63.00,239.90 92.30,237.50 122.00,236.00 151.60,234.60" fill="none" stroke="#e0221c" stroke-width="1.6" stroke-linejoin="round"/>
<line x1="63.00" y1="237.00" x2="63.00" y2="241.80" stroke="#2c2c2c" stroke-width="1.1"/>
<line x1="61.20" y1="237.00" x2="64.80" y2="237.00" stroke="#2c2c2c" stroke-width="1.1"/>
<line x1="61.20" y1="241.80" x2="64.80" y2="241.80" stroke="#2c2c2c" stroke-width="1.1"/>
<line x1="92.30" y1="235.00" x2="92.30" y2="240.00" stroke="#2c2c2c" stroke-width="1.1"/>
<line x1="90.50" y1="235.00" x2="94.10" y2="235.00" stroke="#2c2c2c" stroke-width="1.1"/>
<line x1="90.50" y1="240.00" x2="94.10" y2="240.00" stroke="#2c2c2c" stroke-width="1.1"/>
<line x1="122.00" y1="233.40" x2="122.00" y2="238.40" stroke="#2c2c2c" stroke-width="1.1"/>
<line x1="120.20" y1="233.40" x2="123.80" y2="233.40" stroke="#2c2c2c" stroke-width="1.1"/>
<line x1="120.20" y1="238.40" x2="123.80" y2="238.40" stroke="#2c2c2c" stroke-width="1.1"/>
<line x1="151.60" y1="232.00" x2="151.60" y2="237.50" stroke="#2c2c2c" stroke-width="1.1"/>
<line x1="149.80" y1="232.00" x2="153.40" y2="232.00" stroke="#2c2c2c" stroke-width="1.1"/>
<line x1="149.80" y1="237.50" x2="153.40" y2="237.50" stroke="#2c2c2c" stroke-width="1.1"/>
<rect x="61.25" y="238.15" width="3.50" height="3.50" fill="#e0221c"/>
<rect x="90.55" y="235.75" width="3.50" height="3.50" fill="#e0221c"/>
<rect x="120.25" y="234.25" width="3.50" height="3.50" fill="#e0221c"/>
<rect x="149.85" y="232.85" width="3.50" height="3.50" fill="#e0221c"/>
<rect x="61.30" y="238.20" width="3.40" height="3.40" fill="#333"/>
<line x1="92.30" y1="202.10" x2="96.60" y2="202.10" stroke="#222" stroke-width="1.0"/>
<line x1="96.60" y1="202.10" x2="96.60" y2="222.30" stroke="#222" stroke-width="1.0"/>
<line x1="92.30" y1="222.30" x2="96.60" y2="222.30" stroke="#222" stroke-width="1.0"/>
<line x1="96.60" y1="212.30" x2="98.40" y2="212.30" stroke="#222" stroke-width="1.0"/>
<text x="102.50" y="213.88" font-size="6.6" font-weight="normal" text-anchor="middle" fill="#222">ns</text>
<line x1="122.00" y1="214.40" x2="126.50" y2="214.40" stroke="#222" stroke-width="1.0"/>
<line x1="126.50" y1="214.40" x2="126.50" y2="222.10" stroke="#222" stroke-width="1.0"/>
<line x1="122.00" y1="222.10" x2="126.50" y2="222.10" stroke="#222" stroke-width="1.0"/>
<line x1="126.50" y1="218.50" x2="128.10" y2="218.50" stroke="#222" stroke-width="1.0"/>
<text x="133.20" y="220.08" font-size="6.6" font-weight="normal" text-anchor="middle" fill="#222">ns</text>
<line x1="154.00" y1="209.00" x2="158.70" y2="209.00" stroke="#222" stroke-width="1.0"/>
<line x1="158.70" y1="209.00" x2="158.70" y2="222.60" stroke="#222" stroke-width="1.0"/>
<line x1="154.00" y1="222.60" x2="158.70" y2="222.60" stroke="#222" stroke-width="1.0"/>
<line x1="158.70" y1="216.10" x2="161.30" y2="216.10" stroke="#222" stroke-width="1.0"/>
<text x="165.60" y="218.58" font-size="6.6" font-weight="normal" text-anchor="middle" fill="#222">ns</text>
<text x="59.40" y="235.89" font-size="5.5" font-weight="bold" text-anchor="middle" fill="#222">ns</text>
<circle cx="84.85" cy="198.40" r="0.75" fill="#8a9a70"/>
<circle cx="86.75" cy="198.40" r="0.75" fill="#8a9a70"/>
<circle cx="117.40" cy="208.20" r="0.7" fill="#5d6a52"/>
<circle cx="147.10" cy="211.40" r="0.7" fill="#5d6a52"/>
<polyline points="87.40,229.30 88.50,227.50 89.60,229.30" fill="none" stroke="#3030b0" stroke-width="0.8"/>
<circle cx="117.40" cy="224.00" r="0.7" fill="#3030b0"/>
<circle cx="145.80" cy="223.90" r="0.7" fill="#3030b0"/>
<text x="198.40" y="156.30" font-size="11.6" font-weight="bold" text-anchor="start" fill="#000">E</text>
<text x="282.25" y="162.40" font-size="7.7" font-weight="bold" text-anchor="middle" fill="#000" textLength="49.10" lengthAdjust="spacingAndGlyphs">Lymphocytes</text>
<text x="210.40" y="211.50" font-size="6.6" font-weight="bold" text-anchor="middle" fill="#111" transform="rotate(-90 210.40 211.50)">Fold Change Cells/µl</text>
<line x1="222.80" y1="171.90" x2="222.80" y2="250.40" stroke="#111" stroke-width="1.3"/>
<line x1="219.20" y1="250.40" x2="222.80" y2="250.40" stroke="#111" stroke-width="1.2"/>
<text x="220.00" y="250.40" font-size="6.2" font-weight="bold" text-anchor="middle" fill="#111" transform="rotate(-90 220.00 250.40)">0</text>
<line x1="219.20" y1="237.40" x2="222.80" y2="237.40" stroke="#111" stroke-width="1.2"/>
<text x="220.00" y="237.40" font-size="6.2" font-weight="bold" text-anchor="middle" fill="#111" transform="rotate(-90 220.00 237.40)">1</text>
<line x1="219.20" y1="224.40" x2="222.80" y2="224.40" stroke="#111" stroke-width="1.2"/>
<text x="220.00" y="224.40" font-size="6.2" font-weight="bold" text-anchor="middle" fill="#111" transform="rotate(-90 220.00 224.40)">2</text>
<line x1="219.20" y1="211.40" x2="222.80" y2="211.40" stroke="#111" stroke-width="1.2"/>
<text x="220.00" y="211.40" font-size="6.2" font-weight="bold" text-anchor="middle" fill="#111" transform="rotate(-90 220.00 211.40)">3</text>
<line x1="219.20" y1="198.40" x2="222.80" y2="198.40" stroke="#111" stroke-width="1.2"/>
<text x="220.00" y="198.40" font-size="6.2" font-weight="bold" text-anchor="middle" fill="#111" transform="rotate(-90 220.00 198.40)">4</text>
<line x1="219.20" y1="185.40" x2="222.80" y2="185.40" stroke="#111" stroke-width="1.2"/>
<text x="220.00" y="185.40" font-size="6.2" font-weight="bold" text-anchor="middle" fill="#111" transform="rotate(-90 220.00 185.40)">5</text>
<line x1="219.20" y1="172.40" x2="222.80" y2="172.40" stroke="#111" stroke-width="1.2"/>
<text x="220.00" y="172.40" font-size="6.2" font-weight="bold" text-anchor="middle" fill="#111" transform="rotate(-90 220.00 172.40)">6</text>
<line x1="219.30" y1="250.40" x2="340.50" y2="250.40" stroke="#111" stroke-width="1.3"/>
<line x1="237.20" y1="250.40" x2="237.20" y2="253.40" stroke="#111" stroke-width="1.2"/>
<line x1="266.70" y1="250.40" x2="266.70" y2="253.40" stroke="#111" stroke-width="1.2"/>
<line x1="296.60" y1="250.40" x2="296.60" y2="253.40" stroke="#111" stroke-width="1.2"/>
<line x1="326.50" y1="250.40" x2="326.50" y2="253.40" stroke="#111" stroke-width="1.2"/>
<text x="240.20" y="258.70" font-size="6.4" font-weight="bold" text-anchor="middle" fill="#111" textLength="24.80" lengthAdjust="spacingAndGlyphs">Baseline</text>
<text x="268.25" y="258.70" font-size="6.4" font-weight="bold" text-anchor="middle" fill="#111" textLength="20.90" lengthAdjust="spacingAndGlyphs">2 hours</text>
<text x="298.00" y="258.70" font-size="6.4" font-weight="bold" text-anchor="middle" fill="#111" textLength="21.40" lengthAdjust="spacingAndGlyphs">4 hours</text>
<text x="327.55" y="258.70" font-size="6.4" font-weight="bold" text-anchor="middle" fill="#111" textLength="21.30" lengthAdjust="spacingAndGlyphs">6 hours</text>
<line x1="248.85" y1="254.60" x2="255.65" y2="246.00" stroke="#1a2a1a" stroke-width="0.9"/>
<line x1="250.95" y1="254.60" x2="257.75" y2="246.00" stroke="#1a2a1a" stroke-width="0.9"/>
<text x="202.60" y="264.30" font-size="5.9" font-weight="bold" text-anchor="start" fill="#111">Anova:</text>
<text x="237.30" y="266.88" font-size="5.5" font-weight="bold" text-anchor="middle" fill="#222">ns</text>
<circle cx="264.95" cy="264.50" r="0.7" fill="#444"/>
<circle cx="266.85" cy="264.50" r="0.7" fill="#444"/>
<circle cx="292.70" cy="264.50" r="0.7" fill="#444"/>
<circle cx="322.70" cy="263.80" r="0.7" fill="#444"/>
<line x1="306.50" y1="175.90" x2="317.50" y2="175.90" stroke="#e0221c" stroke-width="1.25"/>
<rect x="310.40" y="174.30" width="3.2" height="3.2" fill="#e0221c"/>
<text x="318.80" y="178.15" font-size="6.4" font-weight="normal" text-anchor="start" fill="#1a1a1a" word-spacing="0.5">G alone</text>
<line x1="306.50" y1="185.80" x2="317.50" y2="185.80" stroke="#1c1cd0" stroke-width="1.25"/>
<polygon points="312.00,183.88 310.16,187.08 313.84,187.08" fill="#1c1cd0"/>
<text x="318.80" y="188.05" font-size="6.4" font-weight="normal" text-anchor="start" fill="#1a1a1a" word-spacing="0.5">A alone</text>
<line x1="306.50" y1="195.30" x2="317.50" y2="195.30" stroke="#82c04a" stroke-width="1.25"/>
<circle cx="312.00" cy="195.30" r="1.0" fill="#82c04a"/>
<text x="318.80" y="197.55" font-size="6.4" font-weight="normal" text-anchor="start" fill="#1a1a1a" word-spacing="0.5">G + A</text>
<line x1="266.70" y1="175.60" x2="266.70" y2="219.00" stroke="#555" stroke-width="1.1"/>
<line x1="264.90" y1="175.60" x2="268.50" y2="175.60" stroke="#555" stroke-width="1.1"/>
<line x1="264.90" y1="219.00" x2="268.50" y2="219.00" stroke="#555" stroke-width="1.1"/>
<line x1="264.90" y1="203.30" x2="268.50" y2="203.30" stroke="#555" stroke-width="1.0"/>
<line x1="264.90" y1="208.60" x2="268.50" y2="208.60" stroke="#555" stroke-width="1.0"/>
<polyline points="237.20,237.40 266.70,195.10 296.60,209.40 326.50,209.10" fill="none" stroke="#82c04a" stroke-width="1.3" stroke-linejoin="round"/>
<line x1="296.60" y1="202.50" x2="296.60" y2="217.80" stroke="#2c2c2c" stroke-width="1.1"/>
<line x1="294.80" y1="202.50" x2="298.40" y2="202.50" stroke="#2c2c2c" stroke-width="1.1"/>
<line x1="294.80" y1="217.80" x2="298.40" y2="217.80" stroke="#2c2c2c" stroke-width="1.1"/>
<line x1="326.50" y1="201.90" x2="326.50" y2="215.80" stroke="#2c2c2c" stroke-width="1.1"/>
<line x1="324.70" y1="201.90" x2="328.30" y2="201.90" stroke="#2c2c2c" stroke-width="1.1"/>
<line x1="324.70" y1="215.80" x2="328.30" y2="215.80" stroke="#2c2c2c" stroke-width="1.1"/>
<circle cx="237.20" cy="237.40" r="1.0" fill="#82c04a"/>
<circle cx="266.70" cy="195.10" r="1.0" fill="#82c04a"/>
<circle cx="296.60" cy="209.40" r="1.0" fill="#82c04a"/>
<circle cx="326.50" cy="209.10" r="1.0" fill="#82c04a"/>
<polyline points="237.20,237.40 266.70,212.10 296.60,211.10 326.50,211.70" fill="none" stroke="#1c1cd0" stroke-width="1.8" stroke-linejoin="round"/>
<line x1="326.50" y1="204.00" x2="326.50" y2="219.00" stroke="#2c2c2c" stroke-width="1.1"/>
<line x1="324.70" y1="204.00" x2="328.30" y2="204.00" stroke="#2c2c2c" stroke-width="1.1"/>
<line x1="324.70" y1="219.00" x2="328.30" y2="219.00" stroke="#2c2c2c" stroke-width="1.1"/>
<polygon points="237.20,235.30 235.19,238.80 239.21,238.80" fill="#1c1cd0"/>
<polygon points="266.70,210.00 264.69,213.50 268.71,213.50" fill="#1c1cd0"/>
<polygon points="296.60,209.00 294.59,212.50 298.61,212.50" fill="#1c1cd0"/>
<polygon points="326.50,209.60 324.49,213.10 328.51,213.10" fill="#1c1cd0"/>
<polyline points="237.20,237.40 266.70,234.60 296.60,233.00 326.50,231.60" fill="none" stroke="#e0221c" stroke-width="1.6" stroke-linejoin="round"/>
<line x1="296.60" y1="231.00" x2="296.60" y2="235.00" stroke="#2c2c2c" stroke-width="1.1"/>
<line x1="294.80" y1="231.00" x2="298.40" y2="231.00" stroke="#2c2c2c" stroke-width="1.1"/>
<line x1="294.80" y1="235.00" x2="298.40" y2="235.00" stroke="#2c2c2c" stroke-width="1.1"/>
<line x1="326.50" y1="229.50" x2="326.50" y2="233.50" stroke="#2c2c2c" stroke-width="1.1"/>
<line x1="324.70" y1="229.50" x2="328.30" y2="229.50" stroke="#2c2c2c" stroke-width="1.1"/>
<line x1="324.70" y1="233.50" x2="328.30" y2="233.50" stroke="#2c2c2c" stroke-width="1.1"/>
<rect x="235.45" y="235.65" width="3.50" height="3.50" fill="#e0221c"/>
<rect x="264.95" y="232.85" width="3.50" height="3.50" fill="#e0221c"/>
<rect x="294.85" y="231.25" width="3.50" height="3.50" fill="#e0221c"/>
<rect x="324.75" y="229.85" width="3.50" height="3.50" fill="#e0221c"/>
<rect x="235.60" y="236.10" width="3.60" height="3.60" fill="#6a6a50"/>
<line x1="267.10" y1="195.50" x2="271.60" y2="195.50" stroke="#333" stroke-width="1.0"/>
<line x1="271.60" y1="195.50" x2="271.60" y2="211.10" stroke="#333" stroke-width="1.0"/>
<line x1="267.10" y1="211.10" x2="271.60" y2="211.10" stroke="#333" stroke-width="1.0"/>
<line x1="271.60" y1="204.30" x2="273.60" y2="204.30" stroke="#333" stroke-width="1.0"/>
<text x="279.40" y="207.87" font-size="6.2" font-weight="normal" text-anchor="middle" fill="#666">ns</text>
<line x1="299.40" y1="206.00" x2="302.90" y2="206.00" stroke="#222" stroke-width="1.0"/>
<line x1="302.90" y1="206.00" x2="302.90" y2="214.60" stroke="#222" stroke-width="1.0"/>
<line x1="299.40" y1="214.60" x2="302.90" y2="214.60" stroke="#222" stroke-width="1.0"/>
<line x1="302.90" y1="210.00" x2="305.00" y2="210.00" stroke="#222" stroke-width="1.0"/>
<text x="310.60" y="211.47" font-size="6.2" font-weight="normal" text-anchor="middle" fill="#333">ns</text>
<line x1="330.00" y1="202.80" x2="332.90" y2="202.80" stroke="#222" stroke-width="1.0"/>
<line x1="332.90" y1="202.80" x2="332.90" y2="215.80" stroke="#222" stroke-width="1.0"/>
<line x1="330.00" y1="215.80" x2="332.90" y2="215.80" stroke="#222" stroke-width="1.0"/>
<line x1="332.90" y1="209.40" x2="337.50" y2="209.40" stroke="#222" stroke-width="1.0"/>
<text x="345.60" y="211.57" font-size="6.2" font-weight="normal" text-anchor="middle" fill="#555">ns</text>
<circle cx="259.45" cy="191.60" r="0.7" fill="#8a9a70"/>
<circle cx="261.35" cy="191.60" r="0.7" fill="#8a9a70"/>
<circle cx="292.80" cy="199.40" r="0.7" fill="#5d6a52"/>
<circle cx="321.90" cy="204.20" r="0.7" fill="#5d6a52"/>
<circle cx="261.80" cy="220.00" r="0.7" fill="#3030b0"/>
<circle cx="292.50" cy="215.80" r="0.7" fill="#3030b0"/>
<circle cx="322.10" cy="215.50" r="0.7" fill="#3030b0"/>
<text x="362.60" y="156.60" font-size="11.6" font-weight="bold" text-anchor="start" fill="#000">F</text>
<text x="448.00" y="157.80" font-size="7.7" font-weight="bold" text-anchor="middle" fill="#000" textLength="50.20" lengthAdjust="spacingAndGlyphs">Lymphocytes</text>
<text x="370.80" y="206.50" font-size="6.4" font-weight="bold" text-anchor="middle" fill="#111" transform="rotate(-90 370.80 206.50)">% of WBC</text>
<line x1="387.40" y1="167.00" x2="387.40" y2="248.10" stroke="#111" stroke-width="1.3"/>
<line x1="383.80" y1="248.10" x2="387.40" y2="248.10" stroke="#111" stroke-width="1.2"/>
<text x="384.00" y="250.30" font-size="6.2" font-weight="bold" text-anchor="end" fill="#111">0</text>
<line x1="383.80" y1="234.67" x2="387.40" y2="234.67" stroke="#111" stroke-width="1.2"/>
<text x="384.00" y="236.87" font-size="6.2" font-weight="bold" text-anchor="end" fill="#111">10</text>
<line x1="383.80" y1="221.23" x2="387.40" y2="221.23" stroke="#111" stroke-width="1.2"/>
<text x="384.00" y="223.43" font-size="6.2" font-weight="bold" text-anchor="end" fill="#111">20</text>
<line x1="383.80" y1="207.80" x2="387.40" y2="207.80" stroke="#111" stroke-width="1.2"/>
<text x="384.00" y="210.00" font-size="6.2" font-weight="bold" text-anchor="end" fill="#111">30</text>
<line x1="383.80" y1="194.37" x2="387.40" y2="194.37" stroke="#111" stroke-width="1.2"/>
<text x="384.00" y="196.57" font-size="6.2" font-weight="bold" text-anchor="end" fill="#111">40</text>
<line x1="383.80" y1="180.93" x2="387.40" y2="180.93" stroke="#111" stroke-width="1.2"/>
<text x="384.00" y="183.13" font-size="6.2" font-weight="bold" text-anchor="end" fill="#111">50</text>
<line x1="383.80" y1="167.50" x2="387.40" y2="167.50" stroke="#111" stroke-width="1.2"/>
<text x="384.00" y="169.70" font-size="6.2" font-weight="bold" text-anchor="end" fill="#111">60</text>
<line x1="384.00" y1="248.10" x2="512.00" y2="248.10" stroke="#111" stroke-width="1.3"/>
<line x1="402.50" y1="248.10" x2="402.50" y2="251.10" stroke="#111" stroke-width="1.2"/>
<line x1="432.80" y1="248.10" x2="432.80" y2="251.10" stroke="#111" stroke-width="1.2"/>
<line x1="463.00" y1="248.10" x2="463.00" y2="251.10" stroke="#111" stroke-width="1.2"/>
<line x1="493.20" y1="248.10" x2="493.20" y2="251.10" stroke="#111" stroke-width="1.2"/>
<text x="405.10" y="256.60" font-size="6.4" font-weight="bold" text-anchor="middle" fill="#111" textLength="24.80" lengthAdjust="spacingAndGlyphs">Baseline</text>
<text x="433.85" y="256.60" font-size="6.4" font-weight="bold" text-anchor="middle" fill="#111" textLength="21.50" lengthAdjust="spacingAndGlyphs">2 hours</text>
<text x="464.45" y="256.60" font-size="6.4" font-weight="bold" text-anchor="middle" fill="#111" textLength="22.70" lengthAdjust="spacingAndGlyphs">4 hours</text>
<text x="494.45" y="256.60" font-size="6.4" font-weight="bold" text-anchor="middle" fill="#111" textLength="21.50" lengthAdjust="spacingAndGlyphs">6 hours</text>
<line x1="418.05" y1="252.20" x2="424.85" y2="243.60" stroke="#1a2a1a" stroke-width="0.9"/>
<line x1="420.15" y1="252.20" x2="426.95" y2="243.60" stroke="#1a2a1a" stroke-width="0.9"/>
<text x="372.50" y="263.70" font-size="5.9" font-weight="bold" text-anchor="start" fill="#111">Anova:</text>
<text x="403.40" y="262.19" font-size="5.5" font-weight="normal" text-anchor="middle" fill="#666">ns</text>
<circle cx="430.60" cy="259.90" r="0.8" fill="#444"/>
<circle cx="433.40" cy="259.90" r="0.8" fill="#444"/>
<circle cx="436.20" cy="259.90" r="0.8" fill="#444"/>
<circle cx="459.60" cy="259.90" r="0.8" fill="#444"/>
<circle cx="462.60" cy="259.90" r="0.8" fill="#444"/>
<circle cx="491.60" cy="259.90" r="0.8" fill="#444"/>
<circle cx="494.40" cy="259.90" r="0.8" fill="#444"/>
<circle cx="497.20" cy="259.90" r="0.8" fill="#444"/>
<polyline points="402.50,189.50 432.80,213.60 463.00,226.20 493.20,227.20" fill="none" stroke="#82c04a" stroke-width="1.5" stroke-linejoin="round"/>
<line x1="402.50" y1="184.00" x2="402.50" y2="197.00" stroke="#2c2c2c" stroke-width="1.1"/>
<line x1="400.70" y1="184.00" x2="404.30" y2="184.00" stroke="#2c2c2c" stroke-width="1.1"/>
<line x1="400.70" y1="197.00" x2="404.30" y2="197.00" stroke="#2c2c2c" stroke-width="1.1"/>
<line x1="432.80" y1="201.50" x2="432.80" y2="222.20" stroke="#2c2c2c" stroke-width="1.1"/>
<line x1="431.00" y1="201.50" x2="434.60" y2="201.50" stroke="#2c2c2c" stroke-width="1.1"/>
<line x1="431.00" y1="222.20" x2="434.60" y2="222.20" stroke="#2c2c2c" stroke-width="1.1"/>
<line x1="463.00" y1="224.40" x2="463.00" y2="229.90" stroke="#2c2c2c" stroke-width="1.1"/>
<line x1="461.20" y1="224.40" x2="464.80" y2="224.40" stroke="#2c2c2c" stroke-width="1.1"/>
<line x1="461.20" y1="229.90" x2="464.80" y2="229.90" stroke="#2c2c2c" stroke-width="1.1"/>
<line x1="493.20" y1="224.40" x2="493.20" y2="230.40" stroke="#2c2c2c" stroke-width="1.1"/>
<line x1="491.40" y1="224.40" x2="495.00" y2="224.40" stroke="#2c2c2c" stroke-width="1.1"/>
<line x1="491.40" y1="230.40" x2="495.00" y2="230.40" stroke="#2c2c2c" stroke-width="1.1"/>
<circle cx="402.50" cy="189.50" r="1.0" fill="#82c04a"/>
<circle cx="432.80" cy="213.60" r="1.0" fill="#82c04a"/>
<circle cx="463.00" cy="226.20" r="1.0" fill="#82c04a"/>
<circle cx="493.20" cy="227.20" r="1.0" fill="#82c04a"/>
<polyline points="402.50,183.00 432.80,195.40 463.00,204.40 493.20,209.30" fill="none" stroke="#1c1cd0" stroke-width="1.6" stroke-linejoin="round"/>
<line x1="402.50" y1="174.10" x2="402.50" y2="190.40" stroke="#2c2c2c" stroke-width="1.1"/>
<line x1="400.70" y1="174.10" x2="404.30" y2="174.10" stroke="#2c2c2c" stroke-width="1.1"/>
<line x1="400.70" y1="190.40" x2="404.30" y2="190.40" stroke="#2c2c2c" stroke-width="1.1"/>
<line x1="432.80" y1="189.00" x2="432.80" y2="201.50" stroke="#2c2c2c" stroke-width="1.1"/>
<line x1="431.00" y1="189.00" x2="434.60" y2="189.00" stroke="#2c2c2c" stroke-width="1.1"/>
<line x1="431.00" y1="201.50" x2="434.60" y2="201.50" stroke="#2c2c2c" stroke-width="1.1"/>
<line x1="463.00" y1="198.70" x2="463.00" y2="209.30" stroke="#2c2c2c" stroke-width="1.1"/>
<line x1="461.20" y1="198.70" x2="464.80" y2="198.70" stroke="#2c2c2c" stroke-width="1.1"/>
<line x1="461.20" y1="209.30" x2="464.80" y2="209.30" stroke="#2c2c2c" stroke-width="1.1"/>
<line x1="493.20" y1="205.20" x2="493.20" y2="212.40" stroke="#2c2c2c" stroke-width="1.1"/>
<line x1="491.40" y1="205.20" x2="495.00" y2="205.20" stroke="#2c2c2c" stroke-width="1.1"/>
<line x1="491.40" y1="212.40" x2="495.00" y2="212.40" stroke="#2c2c2c" stroke-width="1.1"/>
<polygon points="402.50,180.90 400.49,184.40 404.51,184.40" fill="#1c1cd0"/>
<polygon points="432.80,193.30 430.79,196.80 434.81,196.80" fill="#1c1cd0"/>
<polygon points="463.00,202.30 460.99,205.80 465.01,205.80" fill="#1c1cd0"/>
<polygon points="493.20,207.20 491.19,210.70 495.21,210.70" fill="#1c1cd0"/>
<polyline points="402.50,191.00 432.80,219.10 463.00,232.00 493.20,234.70" fill="none" stroke="#e0221c" stroke-width="1.9" stroke-linejoin="round"/>
<line x1="402.50" y1="188.00" x2="402.50" y2="198.20" stroke="#2c2c2c" stroke-width="1.1"/>
<line x1="400.70" y1="188.00" x2="404.30" y2="188.00" stroke="#2c2c2c" stroke-width="1.1"/>
<line x1="400.70" y1="198.20" x2="404.30" y2="198.20" stroke="#2c2c2c" stroke-width="1.1"/>
<line x1="432.80" y1="215.00" x2="432.80" y2="222.20" stroke="#2c2c2c" stroke-width="1.1"/>
<line x1="431.00" y1="215.00" x2="434.60" y2="215.00" stroke="#2c2c2c" stroke-width="1.1"/>
<line x1="431.00" y1="222.20" x2="434.60" y2="222.20" stroke="#2c2c2c" stroke-width="1.1"/>
<line x1="463.00" y1="229.50" x2="463.00" y2="234.50" stroke="#2c2c2c" stroke-width="1.1"/>
<line x1="461.20" y1="229.50" x2="464.80" y2="229.50" stroke="#2c2c2c" stroke-width="1.1"/>
<line x1="461.20" y1="234.50" x2="464.80" y2="234.50" stroke="#2c2c2c" stroke-width="1.1"/>
<line x1="493.20" y1="232.50" x2="493.20" y2="237.00" stroke="#2c2c2c" stroke-width="1.1"/>
<line x1="491.40" y1="232.50" x2="495.00" y2="232.50" stroke="#2c2c2c" stroke-width="1.1"/>
<line x1="491.40" y1="237.00" x2="495.00" y2="237.00" stroke="#2c2c2c" stroke-width="1.1"/>
<rect x="400.75" y="189.25" width="3.50" height="3.50" fill="#e0221c"/>
<rect x="431.05" y="217.35" width="3.50" height="3.50" fill="#e0221c"/>
<rect x="461.25" y="230.25" width="3.50" height="3.50" fill="#e0221c"/>
<rect x="491.45" y="232.95" width="3.50" height="3.50" fill="#e0221c"/>
<rect x="431.5" y="200.2" width="2.6" height="2.6" fill="none" stroke="#777" stroke-width="0.8"/>
<line x1="391.50" y1="226.40" x2="403.30" y2="226.40" stroke="#e0221c" stroke-width="1.25"/>
<rect x="395.80" y="224.80" width="3.2" height="3.2" fill="#e0221c"/>
<text x="404.90" y="228.65" font-size="6.4" font-weight="normal" text-anchor="start" fill="#1a1a1a" word-spacing="0.5">G alone</text>
<line x1="391.50" y1="235.10" x2="403.30" y2="235.10" stroke="#1c1cd0" stroke-width="1.25"/>
<polygon points="397.40,233.18 395.56,236.38 399.24,236.38" fill="#1c1cd0"/>
<text x="404.90" y="237.35" font-size="6.4" font-weight="normal" text-anchor="start" fill="#1a1a1a" word-spacing="0.5">A alone</text>
<line x1="391.50" y1="243.40" x2="403.30" y2="243.40" stroke="#82c04a" stroke-width="1.25"/>
<circle cx="397.40" cy="243.40" r="1.0" fill="#82c04a"/>
<text x="404.90" y="245.65" font-size="6.4" font-weight="normal" text-anchor="start" fill="#1a1a1a" word-spacing="0.5">G + A</text>
<circle cx="424.90" cy="219.10" r="0.95" fill="#e0221c"/>
<circle cx="460.40" cy="218.00" r="1.0" fill="#7a9a50"/>
<circle cx="463.00" cy="218.00" r="1.0" fill="#7a9a50"/>
<circle cx="485.10" cy="219.60" r="1.0" fill="#7a9a50"/>
<circle cx="487.70" cy="219.60" r="1.0" fill="#7a9a50"/>
<circle cx="449.40" cy="232.40" r="1.0" fill="#e0221c"/>
<circle cx="452.00" cy="232.40" r="1.0" fill="#e0221c"/>
<circle cx="454.60" cy="232.40" r="1.0" fill="#e0221c"/>
<circle cx="485.70" cy="238.00" r="1.0" fill="#e0221c"/>
<circle cx="488.30" cy="238.00" r="1.0" fill="#e0221c"/>
<circle cx="490.90" cy="238.00" r="1.0" fill="#e0221c"/>
</svg>
</body></html>
